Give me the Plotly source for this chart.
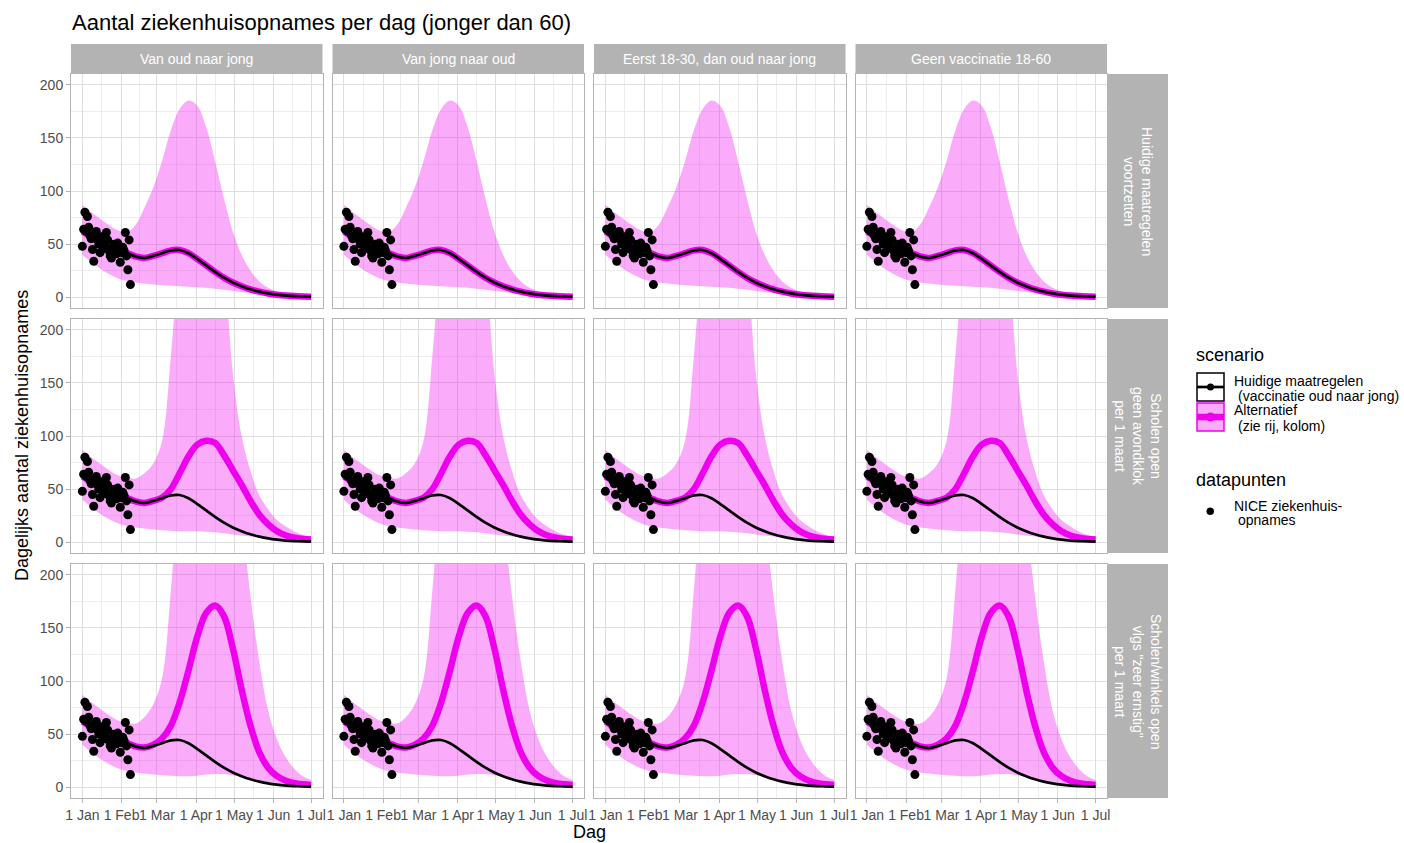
import plotly.graph_objects as go
from plotly.subplots import make_subplots

W, H = 1404, 843

# ---------------- data ----------------
col_titles = ["Van oud naar jong", "Van jong naar oud",
              "Eerst 18-30, dan oud naar jong", "Geen vaccinatie 18-60"]
row_titles = ["Huidige maatregelen<br>voortzetten",
              "Scholen open<br>geen avondklok<br>per 1 maart",
              "Scholen/winkels open<br>vlgs \"zeer ernstig\"<br>per 1 maart"]

curve_dates = ["2021-01-01", "2021-01-08", "2021-01-15", "2021-01-22", "2021-01-29",
               "2021-02-05", "2021-02-12", "2021-02-19", "2021-02-26", "2021-03-05",
               "2021-03-12", "2021-03-19", "2021-03-26", "2021-04-02", "2021-04-09",
               "2021-04-16", "2021-04-23", "2021-04-30", "2021-05-07", "2021-05-14",
               "2021-05-21", "2021-05-28", "2021-06-04", "2021-06-11", "2021-06-18",
               "2021-06-25", "2021-07-01"]

# current measures (black)
current_mid = [62, 57, 52, 48, 45, 42, 38.5, 37, 39, 41.5, 44.2, 44.5, 41.5, 36, 30,
               24, 18.5, 14, 10.5, 7.6, 5.4, 3.7, 2.5, 1.7, 1.2, 0.85, 0.65]

# alternative scenario (magenta), one per row
alt_mid_r1 = current_mid
alt_mid_r2 = [62, 57, 52, 48, 45, 42, 38.5, 37, 39, 42, 50, 65, 81, 92, 95.5,
              93.5, 82, 68, 54, 39, 26, 17, 10.5, 6.5, 4.3, 3.1, 2.6]
alt_mid_r3 = [62, 57, 52, 48, 45, 42, 38.5, 37.5, 40, 46, 58, 80, 110, 142, 164,
              171, 161, 131, 92, 58, 33, 18.5, 10.5, 6.3, 4, 2.9, 2.3]

band_hi_r1 = [87, 80, 74, 68, 63, 61, 68, 84, 103, 128, 157, 177, 185, 180, 160,
              128, 93, 62, 40, 25, 15, 9, 5.5, 3.5, 2.3, 1.7, 1.4]
band_lo_r1 = [40, 33, 27, 22, 18, 15.5, 14, 13, 12, 11.5, 11, 10.5, 10, 9.5, 9,
              8.2, 7.2, 6.1, 5.1, 4.3, 3.6, 2.9, 2.3, 1.8, 1.4, 1.1, 0.9]
band_hi_r2 = [87, 80, 74, 68, 63, 61, 60, 65, 74, 95, 175, 280, 360, 400, 400,
              360, 270, 160, 100, 67, 44, 31, 21, 15, 10, 7, 5]
band_lo_r2 = [40, 33, 27, 22, 18, 15.5, 14, 13, 12, 11.5, 11, 10.5, 10.5, 10.5, 10,
              9.5, 8.5, 7.5, 6.5, 5.5, 4.5, 3.7, 3, 2.4, 2, 1.7, 1.5]
band_hi_r3 = [87, 80, 74, 68, 63, 61, 60, 66, 78, 102, 185, 300, 420, 500, 550,
              560, 520, 420, 260, 180, 118, 72, 45, 28, 17, 10, 7]
band_lo_r3 = [40, 33, 27, 22, 18, 15.5, 14, 13, 12, 11.5, 11, 10.5, 10.5, 11, 12,
              12.5, 12.5, 11.5, 10, 8.2, 6.5, 5, 3.8, 3, 2.4, 2, 1.7]

# NICE hospital admissions (points)
nice_dates = ["2021-01-01", "2021-01-02", "2021-01-03", "2021-01-04", "2021-01-05",
              "2021-01-06", "2021-01-07", "2021-01-08", "2021-01-09", "2021-01-10",
              "2021-01-11", "2021-01-12", "2021-01-13", "2021-01-14", "2021-01-15",
              "2021-01-16", "2021-01-17", "2021-01-18", "2021-01-19", "2021-01-20",
              "2021-01-21", "2021-01-22", "2021-01-23", "2021-01-24", "2021-01-25",
              "2021-01-26", "2021-01-27", "2021-01-28", "2021-01-29", "2021-01-30",
              "2021-01-31", "2021-02-01", "2021-02-02", "2021-02-03", "2021-02-04",
              "2021-02-05", "2021-02-06", "2021-02-07", "2021-02-08"]
nice_values = [48, 64, 80, 62, 76, 66, 58, 55, 45, 34, 60, 62, 54, 50, 42, 57, 51, 46,
               48, 61, 54, 44, 39, 37, 43, 50, 47, 41, 51, 45, 33, 42, 47, 44, 61, 39,
               26, 54, 12]

x_tick_vals = ["2021-01-01", "2021-02-01", "2021-03-01", "2021-04-01",
               "2021-05-01", "2021-06-01", "2021-07-01"]
x_tick_text = ["1 Jan", "1 Feb", "1 Mar", "1 Apr", "1 May", "1 Jun", "1 Jul"]
x_minor_vals = ["2021-01-16 12:00", "2021-02-15", "2021-03-16 12:00",
                "2021-04-16", "2021-05-16 12:00", "2021-06-16"]
y_tick_vals = [0, 50, 100, 150, 200]
y_minor_vals = [25, 75, 125, 175]

alt_mids = [alt_mid_r1, alt_mid_r2, alt_mid_r3]
band_his = [band_hi_r1, band_hi_r2, band_hi_r3]
band_los = [band_lo_r1, band_lo_r2, band_lo_r3]

# ---------------- style ----------------
FONT = "Liberation Sans, Arial, Helvetica, sans-serif"
MAG = "#EE00EE"
BAND = "rgba(240,0,240,0.33)"
STRIP = "#B3B3B3"
BORDER = "#B3B3B3"
GRID = "#DEDEDE"
GRID_MINOR = "#EDEDED"

col_x = [(71, 322.5), (332.5, 584), (594, 845.5), (855.5, 1107)]
row_y = [(74, 308), (319, 553), (564, 798)]


def px(x):
    return x / W


def py(y):
    return 1 - y / H


fig = make_subplots(rows=3, cols=4)

for r in range(3):
    for c in range(4):
        kw = dict(row=r + 1, col=c + 1)
        fig.add_trace(go.Scatter(x=curve_dates, y=band_los[r], mode="lines",
                                 line=dict(width=0, shape="spline"),
                                 hoverinfo="skip", showlegend=False), **kw)
        fig.add_trace(go.Scatter(x=curve_dates, y=band_his[r], mode="lines",
                                 line=dict(width=0, shape="spline"),
                                 fill="tonexty", fillcolor=BAND,
                                 hoverinfo="skip", showlegend=False), **kw)
        fig.add_trace(go.Scatter(x=curve_dates, y=alt_mids[r], mode="lines",
                                 line=dict(color=MAG, width=6.5, shape="spline"),
                                 showlegend=False), **kw)
        fig.add_trace(go.Scatter(x=curve_dates, y=current_mid, mode="lines",
                                 line=dict(color="black", width=2.7, shape="spline"),
                                 showlegend=False), **kw)
        fig.add_trace(go.Scatter(x=nice_dates, y=nice_values, mode="markers",
                                 marker=dict(color="black", size=9, line=dict(width=0)),
                                 showlegend=False), **kw)

        idx = r * 4 + c + 1
        xa = "xaxis" if idx == 1 else f"xaxis{idx}"
        ya = "yaxis" if idx == 1 else f"yaxis{idx}"
        x0, x1 = col_x[c]
        y0, y1 = row_y[r]
        fig.layout[xa].update(
            domain=[px(x0), px(x1)], type="date", automargin=False,
            range=["2020-12-23", "2021-07-10"],
            tickmode="array", tickvals=x_tick_vals, ticktext=x_tick_text,
            tickangle=0, showticklabels=(r == 2),
            ticks="outside" if r == 2 else "", ticklen=4, tickcolor=BORDER,
            tickfont=dict(size=14, color="#4D4D4D", family=FONT),
            showgrid=True, gridcolor=GRID, gridwidth=1,
            minor=dict(tickmode="array", tickvals=x_minor_vals, showgrid=True,
                       gridcolor=GRID_MINOR, gridwidth=0.6, ticks=""),
            showline=True, mirror=True, linecolor=BORDER, linewidth=1,
            zeroline=False, fixedrange=True)
        fig.layout[ya].update(
            domain=[py(y1), py(y0)], range=[-10, 210], automargin=False,
            tickmode="array", tickvals=y_tick_vals,
            showticklabels=(c == 0),
            ticks="outside" if c == 0 else "", ticklen=4, tickcolor=BORDER,
            tickfont=dict(size=14, color="#4D4D4D", family=FONT),
            showgrid=True, gridcolor=GRID, gridwidth=1,
            minor=dict(tickmode="array", tickvals=y_minor_vals, showgrid=True,
                       gridcolor=GRID_MINOR, gridwidth=0.6, ticks=""),
            showline=True, mirror=True, linecolor=BORDER, linewidth=1,
            zeroline=False, fixedrange=True)

shapes = []
annotations = []

# column strips
for c, t in enumerate(col_titles):
    x0, x1 = col_x[c]
    shapes.append(dict(type="rect", xref="paper", yref="paper", x0=px(x0), x1=px(x1),
                       y0=py(74), y1=py(44), fillcolor=STRIP, line=dict(width=0),
                       layer="below"))
    annotations.append(dict(text=t, xref="paper", yref="paper", x=px((x0 + x1) / 2),
                            y=py(59), showarrow=False, xanchor="center", yanchor="middle",
                            font=dict(size=14, color="white", family=FONT)))
# row strips
for r, t in enumerate(row_titles):
    y0, y1 = row_y[r]
    shapes.append(dict(type="rect", xref="paper", yref="paper", x0=px(1108), x1=px(1168),
                       y0=py(y1), y1=py(y0), fillcolor=STRIP, line=dict(width=0),
                       layer="below"))
    annotations.append(dict(text=t, xref="paper", yref="paper", x=px(1138),
                            y=py((y0 + y1) / 2), showarrow=False, textangle=90,
                            xanchor="center", yanchor="middle",
                            font=dict(size=14, color="white", family=FONT)))

# title and axis titles
annotations.append(dict(text="Aantal ziekenhuisopnames per dag (jonger dan 60)",
                        xref="paper", yref="paper", x=px(70), y=py(22),
                        xanchor="left", yanchor="middle", showarrow=False,
                        font=dict(size=22, color="black", family=FONT)))
annotations.append(dict(text="Dag", xref="paper", yref="paper", x=px(589), y=py(832),
                        xanchor="center", yanchor="middle", showarrow=False,
                        font=dict(size=18, color="black", family=FONT)))
annotations.append(dict(text="Dagelijks aantal ziekenhuisopnames", xref="paper",
                        yref="paper", x=px(22), y=py(436), textangle=-90,
                        xanchor="center", yanchor="middle", showarrow=False,
                        font=dict(size=18, color="black", family=FONT)))

# manual legend
def txt(s, x, y, size=14):
    annotations.append(dict(text=s, xref="paper", yref="paper", x=px(x), y=py(y),
                            xanchor="left", yanchor="middle", showarrow=False,
                            font=dict(size=size, color="black", family=FONT)))


txt("scenario", 1194, 355, 18)
shapes.append(dict(type="rect", xref="paper", yref="paper", x0=px(1197), x1=px(1224),
                   y0=py(401), y1=py(373), fillcolor="white",
                   line=dict(color="black", width=1.5)))
shapes.append(dict(type="line", xref="paper", yref="paper", x0=px(1197), x1=px(1224),
                   y0=py(387), y1=py(387), line=dict(color="black", width=2.7)))
shapes.append(dict(type="circle", xref="paper", yref="paper", x0=px(1207), x1=px(1214),
                   y0=py(390.5), y1=py(383.5), fillcolor="black", line=dict(width=0)))
shapes.append(dict(type="rect", xref="paper", yref="paper", x0=px(1197), x1=px(1224),
                   y0=py(431), y1=py(403), fillcolor=BAND,
                   line=dict(color=MAG, width=1.5)))
shapes.append(dict(type="line", xref="paper", yref="paper", x0=px(1197), x1=px(1224),
                   y0=py(417), y1=py(417), line=dict(color=MAG, width=6.5)))
shapes.append(dict(type="circle", xref="paper", yref="paper", x0=px(1206), x1=px(1215),
                   y0=py(421.5), y1=py(412.5), fillcolor=MAG, line=dict(width=0)))
txt("Huidige maatregelen", 1232, 381)
txt("(vaccinatie oud naar jong)", 1236, 396)
txt("Alternatief", 1232, 410)
txt("(zie rij, kolom)", 1236, 426)

txt("datapunten", 1194, 480, 18)
shapes.append(dict(type="circle", xref="paper", yref="paper", x0=px(1206.5), x1=px(1214),
                   y0=py(515), y1=py(507.5), fillcolor="black", line=dict(width=0)))
txt("NICE ziekenhuis-", 1232, 506)
txt("opnames", 1236, 520)

fig.update_layout(width=W, height=H,
                  margin=dict(l=0, r=0, t=0, b=0, pad=0, autoexpand=False),
                  paper_bgcolor="white", plot_bgcolor="white",
                  showlegend=False, shapes=shapes, annotations=annotations,
                  font=dict(family=FONT))

fig.write_html("out.html", config={"displayModeBar": False},
               post_script="document.body.style.margin='0';")
